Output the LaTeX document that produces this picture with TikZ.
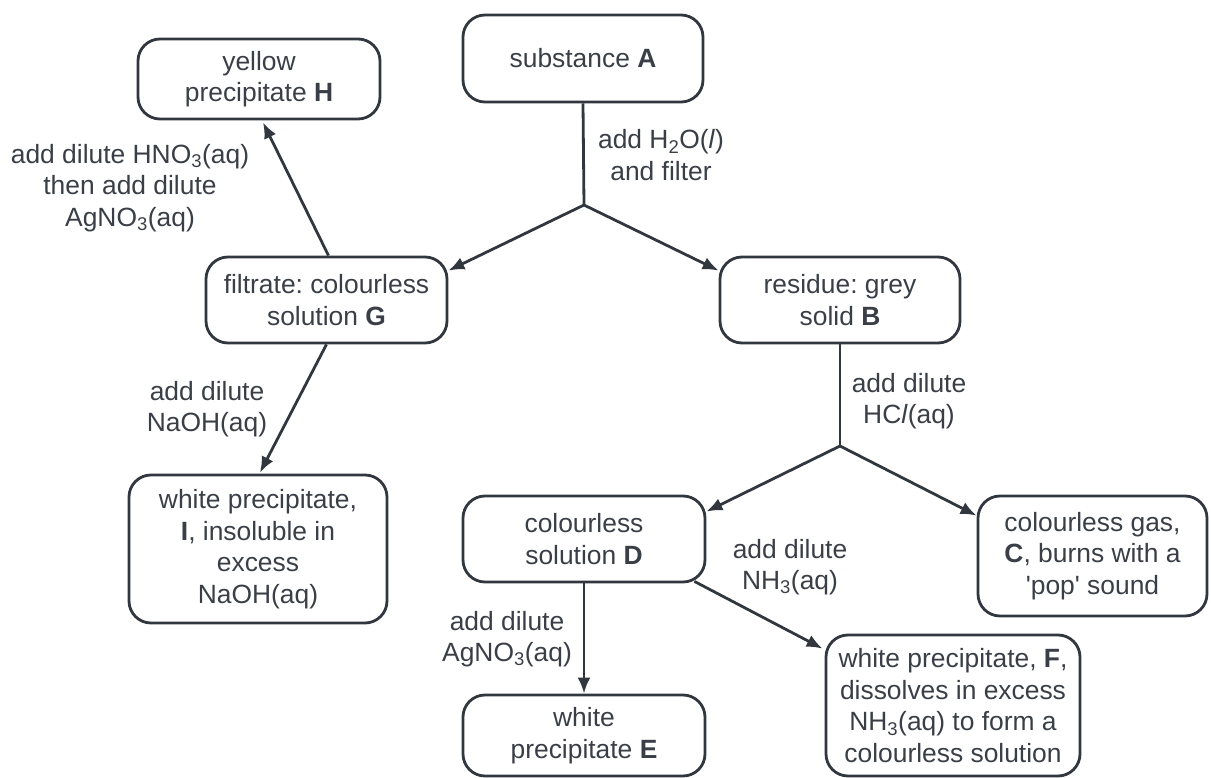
\documentclass[tikz,border=0pt]{standalone}
\usepackage{fontspec}
\setmainfont{Liberation Sans}
\usetikzlibrary{arrows.meta,calc}
\definecolor{ink}{RGB}{50,55,63}
\definecolor{txt}{RGB}{58,62,70}
\frenchspacing
\begin{document}
\begin{tikzpicture}[x=1pt,y=-1pt,
  box/.style={draw=ink,line width=2.8pt,rounded corners=22pt,align=center,inner sep=0pt,text=txt,font=\fontsize{26.4}{31.5}\selectfont},
  lbl/.style={align=center,inner sep=0pt,text=txt,font=\fontsize{26.4}{31.5}\selectfont},
  arr/.style={draw=ink,line width=2.8pt,-{Latex[length=16pt,width=13pt]}},
  ln/.style={draw=ink,line width=2.8pt}]
\useasboundingbox (0,0) rectangle (1211,778);
% boxes
\node[box,minimum width=240pt,minimum height=87pt] (A) at (583,58.5) {substance \textbf{A}};
\node[box,minimum width=242pt,minimum height=80pt] (H) at (259,79) {yellow\\precipitate \textbf{H}};
\node[box,minimum width=241pt,minimum height=86pt] (G) at (326.5,300) {filtrate: colourless\\solution \textbf{G}};
\node[box,minimum width=240pt,minimum height=86pt] (B) at (840,300) {residue: grey\\solid \textbf{B}};
\node[box,minimum width=258pt,minimum height=148pt] (I) at (258,549) {white precipitate,\\\textbf{I}, insoluble in\\excess\\NaOH(aq)};
\node[box,minimum width=242pt,minimum height=86pt] (D) at (584,539) {colourless\\solution \textbf{D}};
\node[box,minimum width=229pt,minimum height=120pt] (C) at (1092.5,556) {colourless gas,\\\textbf{C}, burns with a\\\textquotesingle pop\textquotesingle{} sound};
\node[box,minimum width=242pt,minimum height=81pt] (E) at (584,735.5) {white\\precipitate \textbf{E}};
\node[box,minimum width=254pt,minimum height=141pt] (F) at (953,705.5) {white precipitate, \textbf{F},\\dissolves in excess\\NH\textsubscript{3}(aq) to form a\\colourless solution};
% junctions
\coordinate (J1) at (584,205);
\coordinate (J2) at (840,446);
% connectors
\draw[ln] (A.south) -- (J1);
\draw[arr] (J1) -- ($(G.north east)+(0,15)$);
\draw[arr] (J1) -- ($(B.north west)+(0,15)$);
\draw[arr] ($(G.north)+(2,0)$) -- ($(H.south)+(4,2)$);
\draw[arr] (G.south) -- ($(I.north)+(2,-1)$);
\draw[ln] (B.south) -- (J2);
\draw[arr] (J2) -- ($(D.north east)+(0,17)$);
\draw[arr] (J2) -- ($(C.north west)+(0,21)$);
\draw[arr] (D.south) -- (E.north);
\draw[arr] ($(D.south east)+(-12,-2)$) -- ($(F.north west)+(-2,15)$);
% labels
\node[lbl] (L1) at (661,155) {add H\textsubscript{2}O(\textit{l})\\and filter};
\node[lbl] (L2) at (130,188) {add dilute HNO\textsubscript{3}(aq)\\then add dilute\\AgNO\textsubscript{3}(aq)};
\node[lbl] (L3) at (207,409) {add dilute\\NaOH(aq)};
\node[lbl] (L4) at (909,401) {add dilute\\HC\textit{l}(aq)};
\node[lbl] (L5) at (790,567) {add dilute\\NH\textsubscript{3}(aq)};
\node[lbl] (L6) at (507,639) {add dilute\\AgNO\textsubscript{3}(aq)};
\end{tikzpicture}
\end{document}
